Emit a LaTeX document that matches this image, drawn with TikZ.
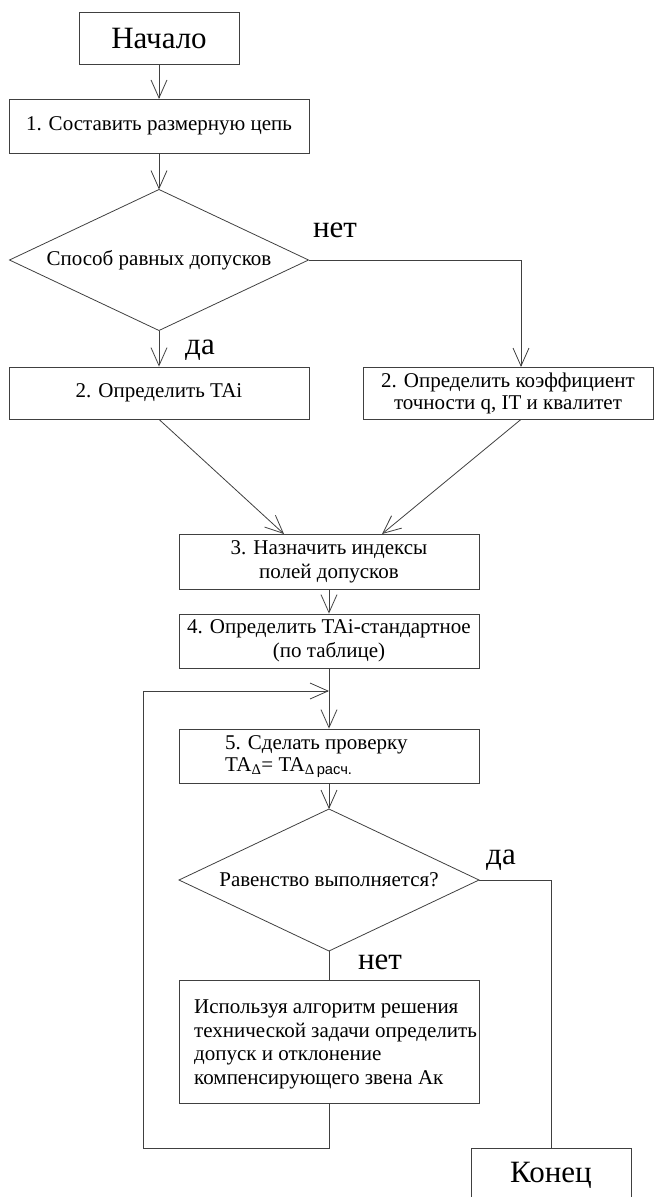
\documentclass[tikz,border=0pt]{standalone}
\usepackage{fontspec}
\setmainfont{Liberation Serif}
\newfontfamily\arialf{Liberation Sans}
\usetikzlibrary{arrows.meta,shapes.geometric}
\definecolor{linec}{HTML}{404040}
\begin{document}
\begin{tikzpicture}[x=1pt,y=-1pt,
  every node/.style={font=\fontsize{21}{22}\selectfont},
  box/.style={draw=linec, line width=0.8pt, rectangle, minimum width=300pt, inner sep=0pt, align=center},
  dec/.style={draw=linec, line width=0.8pt, diamond, inner sep=0pt, outer sep=0pt},
  lbl/.style={font=\fontsize{31}{31}\selectfont},
  big/.style={font=\fontsize{31}{31}\selectfont},
  conn/.style={draw=linec, line width=0.8pt},
  arr/.style={conn, -{Straight Barb[length=18pt,width=16pt]}},
]
\useasboundingbox (0,0) rectangle (655,1197);

\node[box, big, minimum width=160pt, minimum height=52pt] (start) at (159,38) {Начало};
\node[box, minimum height=54pt] (b1) at (159,126.3) {1. Составить размерную цепь};
\node[dec, aspect=2.12, minimum width=299pt, minimum height=141pt] (d1) at (159,260) {Способ равных допусков};
\node[lbl] (no1) at (335,230) {нет};
\node[lbl] (yes1) at (200,350) {да};
\node[box, minimum height=52pt] (b2a) at (159,393) {2. Определить TAi};
\node[box, minimum width=290pt, minimum height=52pt] (b2b) at (508,393) {2. Определить коэффициент\\точности q, IT и квалитет};
\node[box, minimum height=55pt, font=\fontsize{21}{24}\selectfont] (b3) at (329,561.5) {3. Назначить индексы\\полей допусков};
\node[box, minimum height=54pt, font=\fontsize{21}{24}\selectfont] (b4) at (329,641) {4. Определить TAi-стандартное\\(по таблице)};
\coordinate (j) at (329,691);
\node[box, minimum height=54pt] (b5) at (329,756) {};
\node[anchor=west, align=left, inner sep=0pt] (t5) at (225,757) {5. Сделать проверку\\TA\textsubscript{Δ}= TA\textsubscript{Δ\,{\arialf расч.}}};
\node[dec, aspect=2.11, minimum width=300pt, minimum height=142pt] (d2) at (329,880) {Равенство выполняется?};
\node[lbl] (yes2) at (501,860) {да};
\node[lbl] (no2) at (380,962) {нет};
\node[box, minimum height=123pt] (b6) at (329,1041.5) {};
\node[anchor=west, align=left, inner sep=0pt, font=\fontsize{21}{23.7}\selectfont] (t6) at (194,1044.5) {Используя алгоритм решения\\технической задачи определить\\допуск и отклонение\\компенсирующего звена Ак};
\node[box, big, minimum width=160pt, minimum height=54pt] (end) at (551,1175) {Конец};

\coordinate (b2bin) at (521,367);
\coordinate (b3l) at (284,534);
\coordinate (b3r) at (382,534);
\coordinate (lb) at (143,1148);

\draw[arr] (start) -- (b1);
\draw[arr] (b1) -- (d1);
\draw[arr] (d1) -- (b2a);
\draw[arr] (d1.east) -| (b2bin);
\draw[arr] (b2a.south) -- (b3l);
\draw[arr] (b2bin |- b2b.south) -- (b3r);
\draw[arr] (b3) -- (b4);
\draw[conn] (b4) -- (j);
\draw[arr] (j) -- (b5);
\draw[arr] (b5) -- (d2);
\draw[conn] (d2) -- (b6);
\draw[conn] (d2.east) -| (end);
\draw[arr] (b6.south) |- (lb) |- (j);
\end{tikzpicture}
\end{document}
